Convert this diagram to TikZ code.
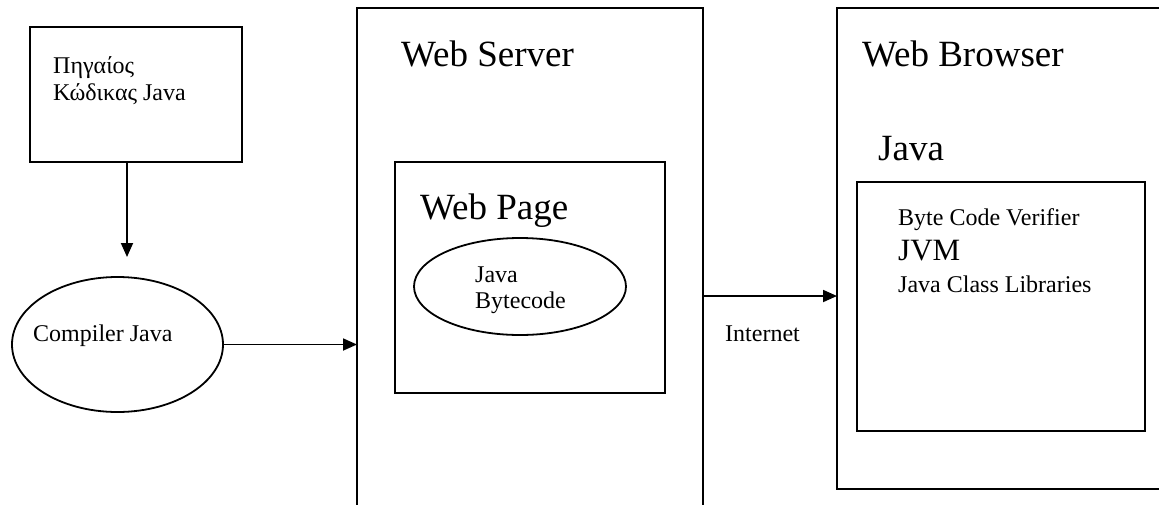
\documentclass[tikz,border=0pt]{standalone}
\usepackage{fontspec}
\setmainfont{Liberation Serif}
\usepackage{tikz}
\usetikzlibrary{shapes.geometric, arrows.meta, positioning, calc}
\tikzset{
    box/.style={rectangle, draw=black, line width=2pt, inner sep=0pt, outer sep=0pt},
    oval/.style={ellipse, draw=black, line width=1.8pt, inner sep=0pt, outer sep=0pt},
    arrow/.style={-{Triangle[length=14pt, width=12pt]}, line width=1.8pt},
    small_text/.style={anchor=base west, inner sep=0pt, font=\fontsize{24}{27}\selectfont},
    big_text/.style={anchor=base west, inner sep=0pt, font=\fontsize{37}{44}\selectfont}
}

\begin{document}
\begin{tikzpicture}[x=1pt, y=-1pt]

    \useasboundingbox (0,0) rectangle (1159,504);

    % Source and compiler
    \node (src) [box, minimum width=212pt, minimum height=135pt] at (136,94.5) {};
    \node (comp) [oval, minimum width=211pt, minimum height=135pt] at (117.5,344.5) {};
    \node (lblsrc1) [small_text] at (53,73) {Πηγαίος};
    \node (lblsrc2) [small_text] at (53,100) {Κώδικας Java};
    \node (lblcomp) [small_text] at (33,341) {Compiler Java};

    % Web server
    \node (server) [box, minimum width=346pt, minimum height=512pt] at (530,264) {};
    \node (page) [box, minimum width=270pt, minimum height=231pt] at (530,277.5) {};
    \node (bcode) [oval, minimum width=212pt, minimum height=97pt] at (520,286.5) {};
    \node (lblserver) [big_text] at (401,66) {Web Server};
    \node (lblpage) [big_text] at (420,219) {Web Page};
    \node (lblbc1) [small_text] at (475,282) {Java};
    \node (lblbc2) [small_text] at (475,308) {Bytecode};

    % Web browser
    \node (browser) [box, minimum width=338pt, minimum height=481pt] at (1006,248.5) {};
    \node (jvmbox) [box, minimum width=288pt, minimum height=249pt] at (1001,306.5) {};
    \node (lblbrowser) [big_text] at (862,66) {Web Browser};
    \node (lbljava) [big_text] at (878,160) {Java};
    \node (lblverif) [small_text] at (898,225) {Byte Code Verifier};
    \node (lbljvm) [anchor=base west, inner sep=0pt, font=\fontsize{31}{36}\selectfont] at (898,260) {JVM};
    \node (lbllib) [small_text] at (898,292) {Java Class Libraries};

    % Paths
    \coordinate (srcOut) at ([xshift=-9pt]src.south);
    \draw [arrow, shorten >=20pt] (srcOut) -- (srcOut |- comp.north);
    \draw [arrow] (comp.east) -- (comp.east -| server.west);

    \coordinate (netOut) at ([yshift=-32pt]server.east);
    \draw [arrow] (netOut) -- (netOut -| browser.west);
    \node (lblnet) [small_text] at (725,341) {Internet};

\end{tikzpicture}
\end{document}
